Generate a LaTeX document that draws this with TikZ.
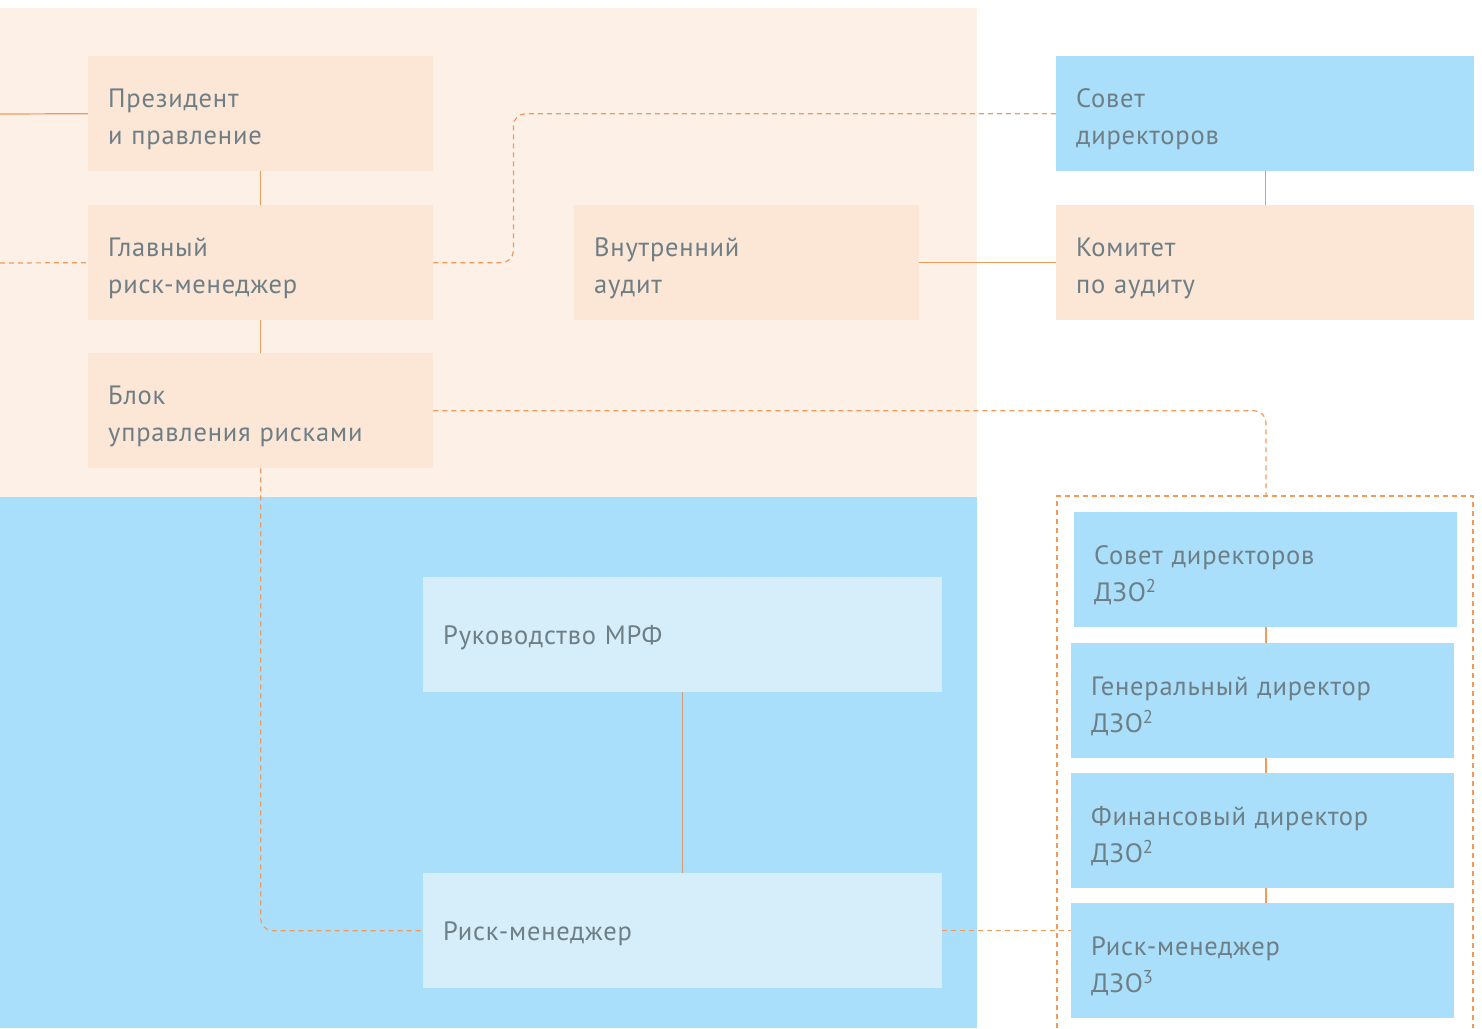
\documentclass[tikz,border=0pt]{standalone}
\usepackage{fontspec}
\setmainfont{PT Sans}[LetterSpace=3]
\definecolor{peachbg}{HTML}{FCF0E7}
\definecolor{peachbox}{HTML}{FCE6D6}
\definecolor{skyblue}{HTML}{A9DFFA}
\definecolor{paleblue}{HTML}{D6EEFA}
\definecolor{linkorange}{HTML}{F29A5B}
\definecolor{linkbrown}{HTML}{D09A78}
\definecolor{txtgray}{HTML}{6E7E85}
\begin{document}
\begin{tikzpicture}[x=1pt,y=-1pt,
    box/.style={rectangle, anchor=north west, minimum height=115pt, inner xsep=20pt,
        inner ysep=0pt, align=left, text=txtgray, font=\fontsize{26.5}{37}\selectfont,
        text height=30pt},
    peach/.style={box, fill=peachbox},
    sky/.style={box, fill=skyblue},
    pale/.style={box, fill=paleblue, text height=25pt},
    link/.style={draw=linkorange, line width=1.2pt},
    dashlink/.style={draw=linkorange, line width=1.2pt, dash pattern=on 5pt off 4pt, rounded corners=12pt}]
    \useasboundingbox (0,0) rectangle (1482,1028);
    % backgrounds
    \fill[peachbg] (0,8) rectangle (977,497);
    \fill[skyblue] (0,497) rectangle (977,1028);
    % company level
    \node[peach, text width=305pt] (pres) at (88,56) {Президент\\и правление};
    \node[peach, text width=305pt] (chief) at (88,205) {Главный\\риск-менеджер};
    \node[peach, text width=305pt] (block) at (88,353) {Блок\\управления рисками};
    \node[peach, text width=305pt] (audit) at (574,205) {Внутренний\\аудит};
    \node[sky, text width=378pt] (board) at (1056,56) {Совет\\директоров};
    \node[peach, text width=378pt] (committee) at (1056,205) {Комитет\\по аудиту};
    % regional level
    \node[pale, text width=479pt] (mrf) at (423,577) {Руководство МРФ};
    \node[pale, text width=479pt] (rm) at (423,873) {Риск-менеджер};
    % subsidiaries
    \node[sky, text width=343pt] (dboard) at (1074,512) {Совет директоров\\ДЗО\textsuperscript{2}};
    \node[sky, text width=343pt] (dgen) at (1071,643) {Генеральный директор\\ДЗО\textsuperscript{2}};
    \node[sky, text width=343pt] (dfin) at (1071,773) {Финансовый директор\\ДЗО\textsuperscript{2}};
    \node[sky, text width=343pt] (drm) at (1071,903) {Риск-менеджер\\ДЗО\textsuperscript{3}};
    \coordinate (lefta) at (0,114);
    \coordinate (leftb) at (0,263);
    \coordinate (cont) at (1266,496);
    % solid links
    \draw[link] (lefta) -- (pres.west);
    \draw[link] (pres) -- (chief);
    \draw[link] (chief) -- (block);
    \draw[link] (audit) -- (committee);
    \draw[link] (board) -- (committee);
    \draw[link, draw=linkbrown] (mrf) -- (rm);
    \draw[link] (1266,627) -- (1266,643);
    \draw[link] (1266,758) -- (1266,773);
    \draw[link] (1266,888) -- (1266,903);
    % dashed links
    \draw[dashlink] (leftb) -- (chief.west);
    \draw[dashlink] (chief.east) -- ++(80,0) |- (board.west);
    \draw[dashlink] (block.east) -| (cont);
    \draw[dashlink] (block.south) |- (rm.west);
    \draw[dashlink] (rm.east) -- (rm.east -| drm.west);
    \draw[dashlink, rounded corners=0pt] (1057,1028) -- (1057,496) -- (1473,496) -- (1473,1028);
\end{tikzpicture}
\end{document}
